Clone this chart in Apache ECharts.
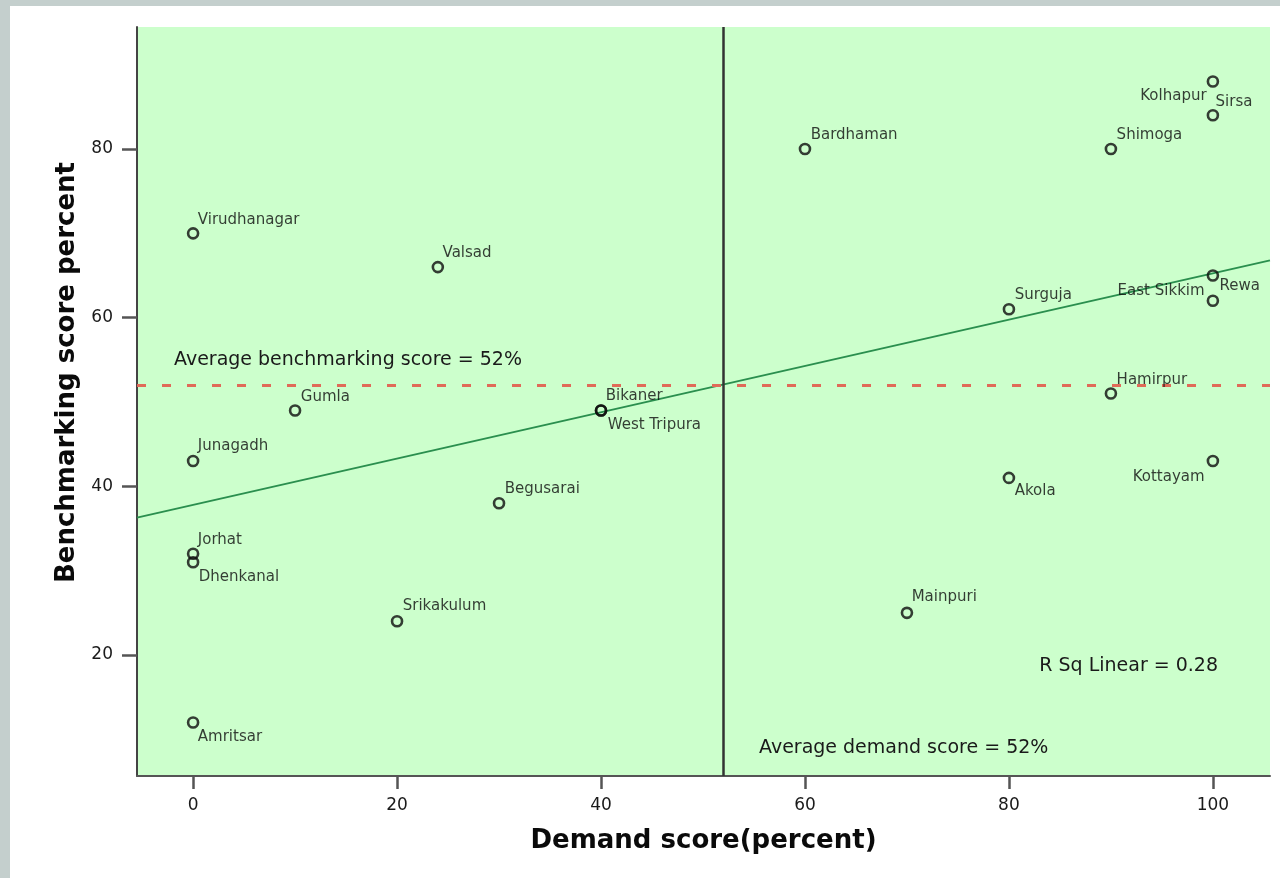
<!DOCTYPE html>
<html>
<head>
<meta charset="utf-8">
<title>Demand score vs benchmarking score</title>
<script src="https://cdn.jsdelivr.net/npm/echarts@6/dist/echarts.min.js"></script>
<style>
  html, body { margin: 0; padding: 0; background: #ffffff; }
  #chart { width: 1280px; height: 878px; }
</style>
</head>
<body>
<div id="chart"></div>
<script>
// District scores (percent)
const districts = [
  'Virudhanagar', 'Valsad', 'Bardhaman', 'Kolhapur', 'Sirsa', 'Shimoga',
  'Surguja', 'East Sikkim', 'Rewa', 'Hamirpur', 'Akola', 'Kottayam',
  'Mainpuri', 'Gumla', 'Bikaner', 'West Tripura', 'Junagadh', 'Begusarai',
  'Jorhat', 'Dhenkanal', 'Srikakulum', 'Amritsar'
];
const demandScore = [
  0, 24, 60, 100, 100, 90,
  80, 100, 100, 90, 80, 100,
  70, 10, 40, 40, 0, 30,
  0, 0, 20, 0
];
const benchmarkScore = [
  70, 66, 80, 88, 84, 80,
  61, 65, 62, 51, 41, 43,
  25, 49, 49, 49, 43, 38,
  32, 31, 24, 12
];
const xTickValues = [0, 20, 40, 60, 80, 100];
const yTickValues = [20, 40, 60, 80];
const averageDemand = 52;
const averageBenchmark = 52;
const rSquaredText = 'R Sq Linear = 0.28';

// Where each district name sits relative to its marker centre: [dx, dy, align]
const labelPlacement = {
  'Virudhanagar': [6, -12, 'left'],
  'Valsad': [6, -13, 'left'],
  'Bardhaman': [7, -13, 'left'],
  'Kolhapur': [-5, 16, 'right'],
  'Sirsa': [4, -12, 'left'],
  'Shimoga': [7, -13, 'left'],
  'Surguja': [7, -13, 'left'],
  'East Sikkim': [-7, 17, 'right'],
  'Rewa': [8, -13, 'left'],
  'Hamirpur': [7, -12, 'left'],
  'Akola': [7, 15, 'left'],
  'Kottayam': [-7, 17, 'right'],
  'Mainpuri': [6, -14, 'left'],
  'Gumla': [7, -12, 'left'],
  'Bikaner': [6, -13, 'left'],
  'West Tripura': [8, 16, 'left'],
  'Junagadh': [6, -14, 'left'],
  'Begusarai': [7, -13, 'left'],
  'Jorhat': [6, -12, 'left'],
  'Dhenkanal': [7, 16, 'left'],
  'Srikakulum': [7, -14, 'left'],
  'Amritsar': [6, 16, 'left']
};

const xMin = -5.5, xMax = 105.6;
const yMin = 5.65, yMax = 94.47;
const MARKER = 10;

// Least-squares fit of benchmarking score on demand score
function linearFit(xs, ys) {
  const n = xs.length;
  const mx = xs.reduce((a, b) => a + b, 0) / n;
  const my = ys.reduce((a, b) => a + b, 0) / n;
  let sxy = 0, sxx = 0;
  for (let i = 0; i < n; i++) {
    sxy += (xs[i] - mx) * (ys[i] - my);
    sxx += (xs[i] - mx) * (xs[i] - mx);
  }
  const slope = sxy / sxx;
  return { slope, intercept: my - slope * mx };
}
const fit = linearFit(demandScore, benchmarkScore);
const fitLine = [xMin, xMax].map(x => [x, fit.intercept + fit.slope * x]);

const pointData = districts.map((name, i) => {
  const p = labelPlacement[name] || [6, -13, 'left'];
  return {
    name,
    value: [demandScore[i], benchmarkScore[i]],
    label: {
      // position is measured from the marker's top-left corner
      position: [MARKER / 2 + p[0], MARKER / 2 + p[1]],
      align: p[2],
      verticalAlign: 'middle'
    }
  };
});

const FONT = '"DejaVu Sans", Verdana, sans-serif';

const chart = echarts.init(document.getElementById('chart'), null, { renderer: 'canvas' });
chart.setOption({
  backgroundColor: '#ffffff',
  animation: false,
  grid: {
    left: 137, top: 27, right: 10, bottom: 102,
    show: true, backgroundColor: '#ccffcc', borderWidth: 0
  },
  xAxis: {
    type: 'value', min: xMin, max: xMax,
    name: 'Demand score(percent)',
    nameLocation: 'middle', nameGap: 52,
    nameTextStyle: { fontFamily: FONT, fontWeight: 'bold', fontSize: 26, color: '#0a0a0a' },
    axisLine: { show: true, onZero: false, lineStyle: { color: '#555', width: 2 } },
    axisTick: { show: true, length: 13, customValues: xTickValues, lineStyle: { color: '#555', width: 2.5 } },
    axisLabel: { customValues: xTickValues, margin: 21, fontFamily: FONT, fontSize: 17, color: '#1a1a1a' },
    splitLine: { show: false }
  },
  yAxis: {
    type: 'value', min: yMin, max: yMax,
    name: 'Benchmarking score percent',
    nameLocation: 'middle', nameGap: 54, nameRotate: 90,
    nameTextStyle: { fontFamily: FONT, fontWeight: 'bold', fontSize: 26, color: '#0a0a0a', padding: [0, 0, 0, 58] },
    axisLine: { show: true, onZero: false, lineStyle: { color: '#444', width: 2 } },
    axisTick: { show: true, length: 15, customValues: yTickValues, lineStyle: { color: '#555', width: 2.5 } },
    axisLabel: { customValues: yTickValues, margin: 24, fontFamily: FONT, fontSize: 17, color: '#1a1a1a' },
    splitLine: { show: false }
  },
  graphic: [
    { type: 'rect', silent: true, z: 100, shape: { x: 0, y: 0, width: 10, height: 878 }, style: { fill: '#c4cfcd' } },
    { type: 'rect', silent: true, z: 100, shape: { x: 0, y: 0, width: 1280, height: 6 }, style: { fill: '#c4cfcd' } },
    { type: 'text', silent: true, z: 50, style: { x: 174, y: 360, text: 'Average benchmarking score = ' + averageBenchmark + '%', font: '19px ' + FONT, fill: '#1a1a1a', verticalAlign: 'middle' } },
    { type: 'text', silent: true, z: 50, style: { x: 759, y: 748, text: 'Average demand score = ' + averageDemand + '%', font: '19px ' + FONT, fill: '#1a1a1a', verticalAlign: 'middle' } },
    { type: 'text', silent: true, z: 50, style: { x: 1218, y: 666, text: rSquaredText, font: '19px ' + FONT, fill: '#1a1a1a', align: 'right', verticalAlign: 'middle' } }
  ],
  series: [
    {
      // reference lines at the two averages
      type: 'line', data: [], silent: true, z: 2,
      markLine: {
        silent: true, symbol: 'none', animation: false,
        label: { show: false },
        data: [
          { yAxis: averageBenchmark, lineStyle: { color: '#e06a58', width: 3, type: [9, 16] } },
          { xAxis: averageDemand, lineStyle: { color: '#333', width: 2.5, type: 'solid' } }
        ]
      }
    },
    {
      // linear fit
      type: 'line', data: fitLine, symbol: 'none', silent: true, z: 3,
      lineStyle: { color: '#2a8f4e', width: 2 }
    },
    {
      type: 'scatter', data: pointData, z: 5,
      symbol: 'circle', symbolSize: MARKER,
      itemStyle: { color: 'rgba(0,0,0,0)', borderColor: '#0d0d0d', borderWidth: 2.6 },
      emphasis: { disabled: true },
      label: {
        show: true, formatter: '{b}',
        fontFamily: FONT, fontSize: 15, color: '#0d0d0d'
      }
    }
  ]
});
</script>
</body>
</html>
